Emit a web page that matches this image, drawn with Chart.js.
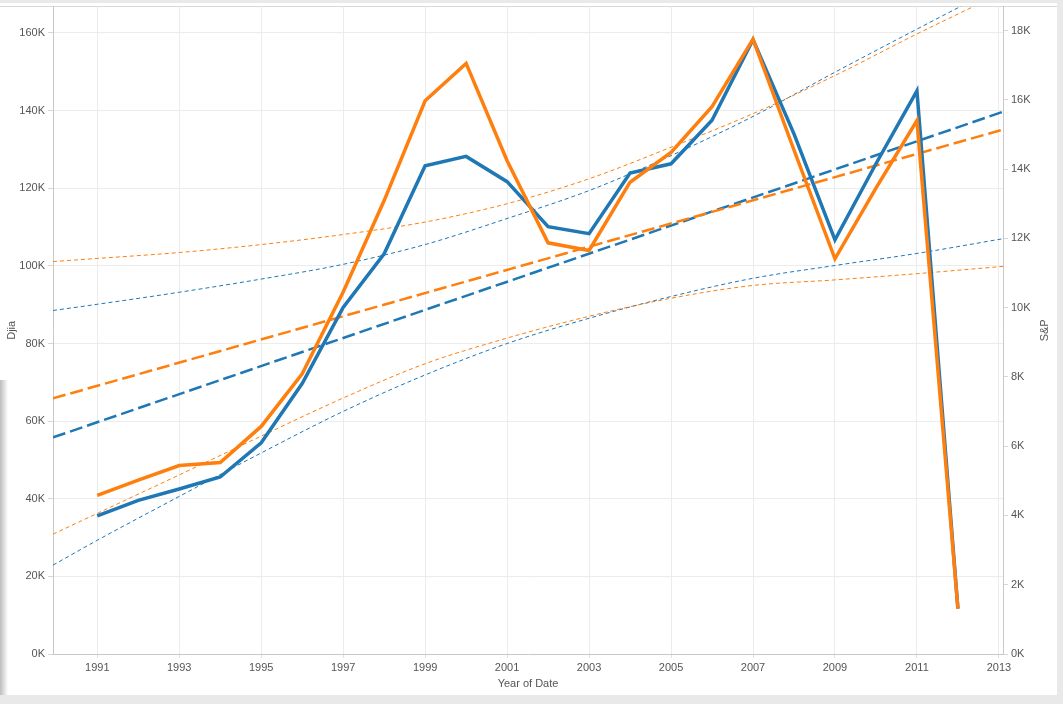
<!DOCTYPE html>
<html>
<head>
<meta charset="utf-8">
<script src="https://cdn.jsdelivr.net/npm/chart.js@4.4.0/dist/chart.umd.min.js"></script>
<style>
  html, body { margin: 0; padding: 0; background: #fff; }
  #wrap { position: relative; width: 1063px; height: 704px; overflow: hidden; }
  #chart { position: absolute; left: 0; top: -3px; }
  .strip { position: absolute; background: #e9e9e9; }
</style>
</head>
<body>
<div id="wrap">
  <div class="strip" style="left:0;top:0;width:1063px;height:3px"></div>
  <div class="strip" style="left:0;top:695px;width:1063px;height:9px"></div>
  <div class="strip" style="left:1057px;top:0;width:6px;height:704px"></div>
  <div style="position:absolute;left:0;top:6px;width:1057px;height:1px;background:#d9d9d9"></div>
  <div style="position:absolute;left:0;top:380px;width:8px;height:315px;background:linear-gradient(to right,#bdbdbd,#fff)"></div>
  <canvas id="chart" width="1063" height="707"></canvas>
</div>
<script>
const BLUE = '#1f77b4';
const ORANGE = '#ff7f0e';
const TEXT = '#555';
const FONT = { family: '"Liberation Sans", Arial, sans-serif', size: 11 };

// yearly values
const years = [1991, 1992, 1993, 1994, 1995, 1996, 1997, 1998, 1999, 2000, 2001,
               2002, 2003, 2004, 2005, 2006, 2007, 2008, 2009, 2010, 2011, 2012];
const djia = [35600, 39600, 42500, 45600, 54400, 69700, 89300, 103100, 125800, 128200, 121700,
              110100, 108300, 123900, 126300, 137500, 158300, 134000, 106700, 126300, 145100, 11700];
const sp = [4580, 5020, 5440, 5530, 6570, 8090, 10450, 13090, 15970, 17050, 14240,
            11870, 11650, 13620, 14480, 15800, 17750, 14550, 11410, 13450, 15400, 1310];

// trend lines (edges of the axis)
const trendX = [1989.92, 2013.1];
const djiaTrend = [55800, 139700];
const spTrend = [7380, 15140];

// confidence bands, read at the odd years and the two edges
const bandX = [1989.92, 1991, 1993, 1995, 1997, 1999, 2001, 2003, 2005, 2007, 2009, 2011, 2013.1];
const djiaUpper = [88500, 90100, 93200, 96600, 100400, 105500, 112200, 119400, 128400, 138500, 149900, 161000, 172500];
const djiaLower = [22900, 29300, 40600, 51800, 62500, 71900, 80000, 86500, 92100, 96800, 100100, 103200, 107000];
const spUpper = [11330, 11420, 11590, 11820, 12110, 12470, 13000, 13720, 14630, 15600, 16700, 17900, 19100];
const spLower = [3460, 4060, 5170, 6290, 7390, 8380, 9120, 9750, 10270, 10640, 10800, 10980, 11190];

// axes
const xTicks = [1991, 1993, 1995, 1997, 1999, 2001, 2003, 2005, 2007, 2009, 2011, 2013];
const djiaTicks = [0, 20000, 40000, 60000, 80000, 100000, 120000, 140000, 160000];
const spTicks = [0, 2000, 4000, 6000, 8000, 10000, 12000, 14000, 16000, 18000];

const pts = (xs, ys) => xs.map((x, i) => ({ x: x, y: ys[i] }));
const kfmt = v => (v / 1000) + 'K';

function line(label, data, color, axis, extra) {
    return Object.assign({
        label: label,
        data: data,
        borderColor: color,
        backgroundColor: color,
        yAxisID: axis,
        pointRadius: 0,
        fill: false,
        tension: 0
    }, extra);
}

const trendStyle = { borderWidth: 2.5, borderDash: [13, 5] };
const bandStyle = { borderWidth: 1, borderDash: [4, 3], cubicInterpolationMode: 'monotone' };

// right axis title, rotated the same way as the left one
const rightTitle = {
    id: 'rightTitle',
    afterDraw(chart) {
        const a = chart.chartArea;
        const ctx = chart.ctx;
        ctx.save();
        ctx.translate(1045, (a.top + a.bottom) / 2);
        ctx.rotate(-Math.PI / 2);
        ctx.font = '11px "Liberation Sans", Arial, sans-serif';
        ctx.fillStyle = TEXT;
        ctx.textAlign = 'center';
        ctx.textBaseline = 'middle';
        ctx.fillText('S&P', 0, 0);
        ctx.restore();
    }
};

new Chart(document.getElementById('chart'), {
    type: 'line',
    data: {
        datasets: [
            line('S&P', pts(years, sp), ORANGE, 'y1', { borderWidth: 3.5 }),
            line('Djia', pts(years, djia), BLUE, 'y', { borderWidth: 3.5 }),
            line('S&P trend', pts(trendX, spTrend), ORANGE, 'y1', trendStyle),
            line('Djia trend', pts(trendX, djiaTrend), BLUE, 'y', trendStyle),
            line('S&P upper', pts(bandX, spUpper), ORANGE, 'y1', bandStyle),
            line('S&P lower', pts(bandX, spLower), ORANGE, 'y1', bandStyle),
            line('Djia upper', pts(bandX, djiaUpper), BLUE, 'y', bandStyle),
            line('Djia lower', pts(bandX, djiaLower), BLUE, 'y', bandStyle)
        ]
    },
    options: {
        responsive: false,
        animation: false,
        layout: { padding: { top: 2, right: 6, bottom: 9, left: 0 } },
        plugins: { legend: { display: false }, tooltip: { enabled: false } },
        scales: {
            x: {
                type: 'linear',
                min: 1989.92,
                max: 2013.1,
                afterBuildTicks: s => { s.ticks = xTicks.map(v => ({ value: v })); },
                afterFit: s => { s.height = 41; },
                ticks: { callback: v => String(v), font: FONT, color: TEXT, maxRotation: 0, autoSkip: false, padding: 3 },
                grid: { color: '#ececec', tickLength: 4, tickColor: '#e0e0e0' },
                border: { color: '#c8c8c8' },
                title: { display: true, text: 'Year of Date', font: FONT, color: TEXT, padding: { top: 2, bottom: 4 } }
            },
            y: {
                position: 'left',
                min: 0,
                max: 166800,
                afterBuildTicks: s => { s.ticks = djiaTicks.map(v => ({ value: v })); },
                afterFit: s => { s.width = 53; },
                ticks: { callback: kfmt, font: FONT, color: TEXT, padding: 3 },
                grid: { color: '#ececec', tickLength: 5, tickColor: '#d6d6d6' },
                border: { color: '#c8c8c8' },
                title: { display: true, text: 'Djia', font: FONT, color: TEXT, padding: { top: 5, bottom: 0 } }
            },
            y1: {
                position: 'right',
                min: 0,
                max: 18690,
                afterBuildTicks: s => { s.ticks = spTicks.map(v => ({ value: v })); },
                afterFit: s => { s.width = 54; },
                ticks: { callback: kfmt, font: FONT, color: TEXT, padding: 3 },
                grid: { drawOnChartArea: false, tickLength: 5, tickColor: '#d6d6d6' },
                border: { color: '#c8c8c8' },
                title: { display: false }
            }
        }
    },
    plugins: [rightTitle]
});
</script>
</body>
</html>
